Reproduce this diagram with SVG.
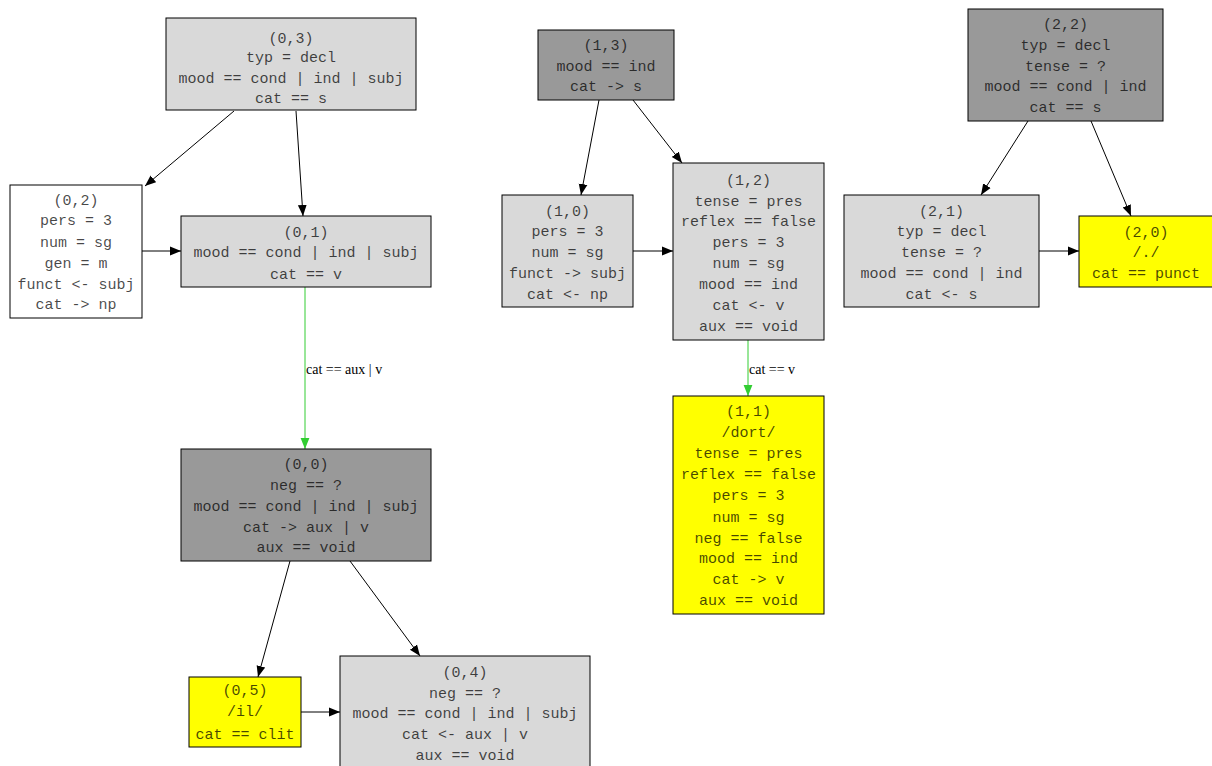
<svg xmlns="http://www.w3.org/2000/svg" width="1212" height="766" viewBox="0 0 1212 766">
<style>
.n rect{stroke:#000;stroke-width:1}
.lg{fill:#d9d9d9}.dg{fill:#999999}.ye{fill:#ffff00}.wh{fill:#ffffff}
.n text{font-family:"Liberation Mono",monospace;font-size:15px;text-anchor:middle;fill:#000;fill-opacity:0.72}
.e line{stroke:#000;stroke-width:1}
.e .g{stroke:#32cd32}
.lbl{font-family:"Liberation Serif",serif;font-size:14px;fill:#000}
</style>
<defs>
<marker id="a" viewBox="0 0 10 10" refX="10" refY="5" markerWidth="11" markerHeight="11" markerUnits="userSpaceOnUse" orient="auto"><path d="M0,1 L10,5 L0,9 z" fill="#000"/></marker>
<marker id="ag" viewBox="0 0 10 10" refX="10" refY="5" markerWidth="11" markerHeight="11" markerUnits="userSpaceOnUse" orient="auto"><path d="M0,1 L10,5 L0,9 z" fill="#32cd32"/></marker>
</defs>
<rect width="1212" height="766" fill="#fff"/>
<g class="e" id="edges">
<line x1="234" y1="111" x2="145" y2="186" marker-end="url(#a)"/>
<line x1="296" y1="111" x2="303" y2="216" marker-end="url(#a)"/>
<line x1="142" y1="251" x2="181" y2="251" marker-end="url(#a)"/>
<line class="g" x1="305" y1="287" x2="305" y2="449" marker-end="url(#ag)"/>
<text class="lbl" x="306" y="374">cat == aux | v</text>
<line x1="290" y1="561" x2="258" y2="677" marker-end="url(#a)"/>
<line x1="350" y1="561" x2="420" y2="656" marker-end="url(#a)"/>
<line x1="301" y1="712" x2="340" y2="712" marker-end="url(#a)"/>
<line x1="599" y1="100" x2="581" y2="195" marker-end="url(#a)"/>
<line x1="633" y1="100" x2="682" y2="163" marker-end="url(#a)"/>
<line x1="633" y1="251" x2="673" y2="251" marker-end="url(#a)"/>
<line class="g" x1="748" y1="340" x2="748" y2="396" marker-end="url(#ag)"/>
<text class="lbl" x="749" y="374">cat == v</text>
<line x1="1028" y1="121" x2="981" y2="195" marker-end="url(#a)"/>
<line x1="1091" y1="121" x2="1131" y2="216" marker-end="url(#a)"/>
<line x1="1039" y1="251" x2="1079" y2="251" marker-end="url(#a)"/>
</g>
<g class="n" id="n03"><rect class="lg" x="166" y="18" width="250" height="92"/>
<text x="291" y="43">(0,3)</text><text x="291" y="62">typ = decl</text><text x="291" y="83">mood == cond | ind | subj</text><text x="291" y="103">cat == s</text></g>
<g class="n" id="n02"><rect class="wh" x="10" y="185" width="132" height="133"/>
<text x="76" y="205">(0,2)</text><text x="76" y="225">pers = 3</text><text x="76" y="247">num = sg</text><text x="76" y="268">gen = m</text><text x="76" y="289">funct &lt;- subj</text><text x="76" y="309">cat -&gt; np</text></g>
<g class="n" id="n01"><rect class="lg" x="181" y="216" width="250" height="71"/>
<text x="306" y="237">(0,1)</text><text x="306" y="257">mood == cond | ind | subj</text><text x="306" y="279">cat == v</text></g>
<g class="n" id="n00"><rect class="dg" x="181" y="449" width="250" height="112"/>
<text x="306" y="469">(0,0)</text><text x="306" y="490">neg == ?</text><text x="306" y="511">mood == cond | ind | subj</text><text x="306" y="532">cat -&gt; aux | v</text><text x="306" y="552">aux == void</text></g>
<g class="n" id="n05"><rect class="ye" x="189" y="677" width="112" height="70"/>
<text x="245" y="695">(0,5)</text><text x="245" y="716">/il/</text><text x="245" y="739">cat == clit</text></g>
<g class="n" id="n04"><rect class="lg" x="340" y="656" width="250" height="112"/>
<text x="465" y="677">(0,4)</text><text x="465" y="698">neg == ?</text><text x="465" y="718">mood == cond | ind | subj</text><text x="465" y="739">cat &lt;- aux | v</text><text x="465" y="760">aux == void</text></g>
<g class="n" id="n13"><rect class="dg" x="538" y="30" width="136" height="70"/>
<text x="606" y="50">(1,3)</text><text x="606" y="71">mood == ind</text><text x="606" y="91">cat -&gt; s</text></g>
<g class="n" id="n10"><rect class="lg" x="502" y="195" width="131" height="112"/>
<text x="567.5" y="216">(1,0)</text><text x="567.5" y="236">pers = 3</text><text x="567.5" y="257">num = sg</text><text x="567.5" y="278">funct -&gt; subj</text><text x="567.5" y="299">cat &lt;- np</text></g>
<g class="n" id="n12"><rect class="lg" x="673" y="163" width="151" height="177"/>
<text x="748.5" y="185">(1,2)</text><text x="748.5" y="206">tense = pres</text><text x="748.5" y="226">reflex == false</text><text x="748.5" y="247">pers = 3</text><text x="748.5" y="268">num = sg</text><text x="748.5" y="289">mood == ind</text><text x="748.5" y="310">cat &lt;- v</text><text x="748.5" y="331">aux == void</text></g>
<g class="n" id="n11"><rect class="ye" x="673" y="396" width="151" height="218"/>
<text x="748.5" y="416">(1,1)</text><text x="748.5" y="437">/dort/</text><text x="748.5" y="458">tense = pres</text><text x="748.5" y="479">reflex == false</text><text x="748.5" y="500">pers = 3</text><text x="748.5" y="522">num = sg</text><text x="748.5" y="543">neg == false</text><text x="748.5" y="563">mood == ind</text><text x="748.5" y="584">cat -&gt; v</text><text x="748.5" y="605">aux == void</text></g>
<g class="n" id="n22"><rect class="dg" x="968" y="9" width="195" height="112"/>
<text x="1065.5" y="29">(2,2)</text><text x="1065.5" y="50">typ = decl</text><text x="1065.5" y="71">tense = ?</text><text x="1065.5" y="91">mood == cond | ind</text><text x="1065.5" y="112">cat == s</text></g>
<g class="n" id="n21"><rect class="lg" x="844" y="195" width="195" height="112"/>
<text x="941.5" y="216">(2,1)</text><text x="941.5" y="236">typ = decl</text><text x="941.5" y="257">tense = ?</text><text x="941.5" y="278">mood == cond | ind</text><text x="941.5" y="299">cat &lt;- s</text></g>
<g class="n" id="n20"><rect class="ye" x="1079" y="216" width="134" height="71"/>
<text x="1146" y="237">(2,0)</text><text x="1146" y="257">/./</text><text x="1146" y="278">cat == punct</text></g>
</svg>
